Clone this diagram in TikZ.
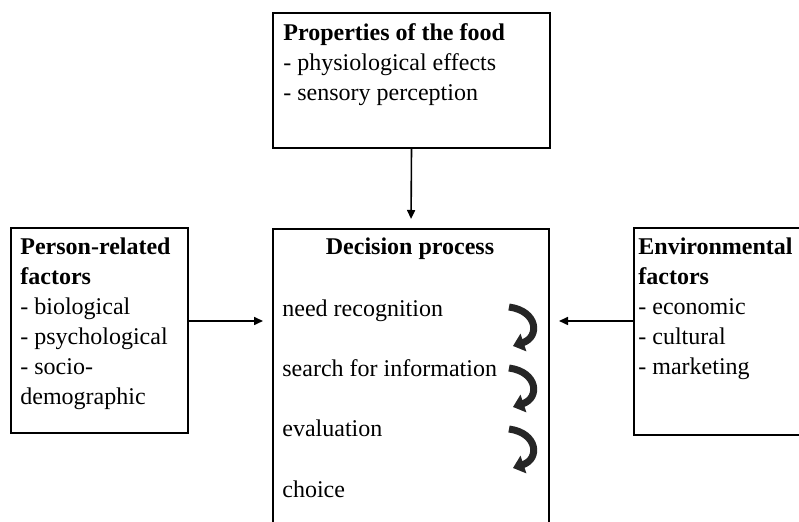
\documentclass[tikz,border=0pt]{standalone}
\usepackage{fontspec}
\setmainfont{Liberation Serif}
\usetikzlibrary{arrows.meta}
\begin{document}
\begin{tikzpicture}[x=0.5pt,y=-0.5pt,
  box/.style={draw, line width=1pt, inner sep=0, anchor=north west},
  txt/.style={inner sep=0, align=left, anchor=base west, font=\fontsize{12}{15}\selectfont},
  link/.style={line width=0.8pt, -{Triangle[length=4.5pt,width=4pt]}, shorten >=4.5pt},
  loop/.style={line width=3.5pt, draw=black!85, -{Triangle[length=5.5pt,width=9pt]}}]

\useasboundingbox (0,0) rectangle (799,522);
\clip (0,0) rectangle (799,522);

% boxes
\node[box, minimum width=138.5pt, minimum height=67.5pt] (food) at (272,12) {};
\node[box, minimum width=138pt, minimum height=160pt] (decision) at (272,228) {};
\node[box, minimum width=88.5pt, minimum height=102.5pt] (person) at (10,227) {};
\node[box, minimum width=100pt, minimum height=103.5pt] (env) at (633,227) {};

% box contents (multi-line nodes sit on the baseline of their last line)
\node[txt] (foodtxt) at (283,101) {\textbf{Properties of the food}\\- physiological effects\\- sensory perception};
\node[txt, anchor=base] (dectitle) at (410,255) {\textbf{Decision process}};
\node[txt] (s1) at (282,317) {need recognition};
\node[txt] (s2) at (282,377) {search for information};
\node[txt] (s3) at (282,437) {evaluation};
\node[txt] (s4) at (282,498) {choice};
\node[txt] (persontxt) at (20,405) {\textbf{Person-related}\\\textbf{factors}\\- biological\\- psychological\\- socio-\\demographic};
\node[txt] (envtxt) at (638,375) {\textbf{Environmental}\\\textbf{factors}\\- economic\\- cultural\\- marketing};

% influences on the decision
\coordinate (lvl) at (0,321);
\draw[link] (food.south) -- (decision.north);
\draw[link] (person.east |- lvl) -- (decision.west |- lvl);
\draw[link] (env.west |- lvl) -- (decision.east |- lvl);

% step transitions
\foreach \dy/\nm in {0/a,61/b,122/c}{
  \coordinate (from\nm) at (509,307+\dy);
  \coordinate (to\nm) at (513,346+\dy);
  \draw[loop] (from\nm) .. controls (538,311+\dy) and (540,337+\dy) .. (to\nm);
}
\end{tikzpicture}
\end{document}
